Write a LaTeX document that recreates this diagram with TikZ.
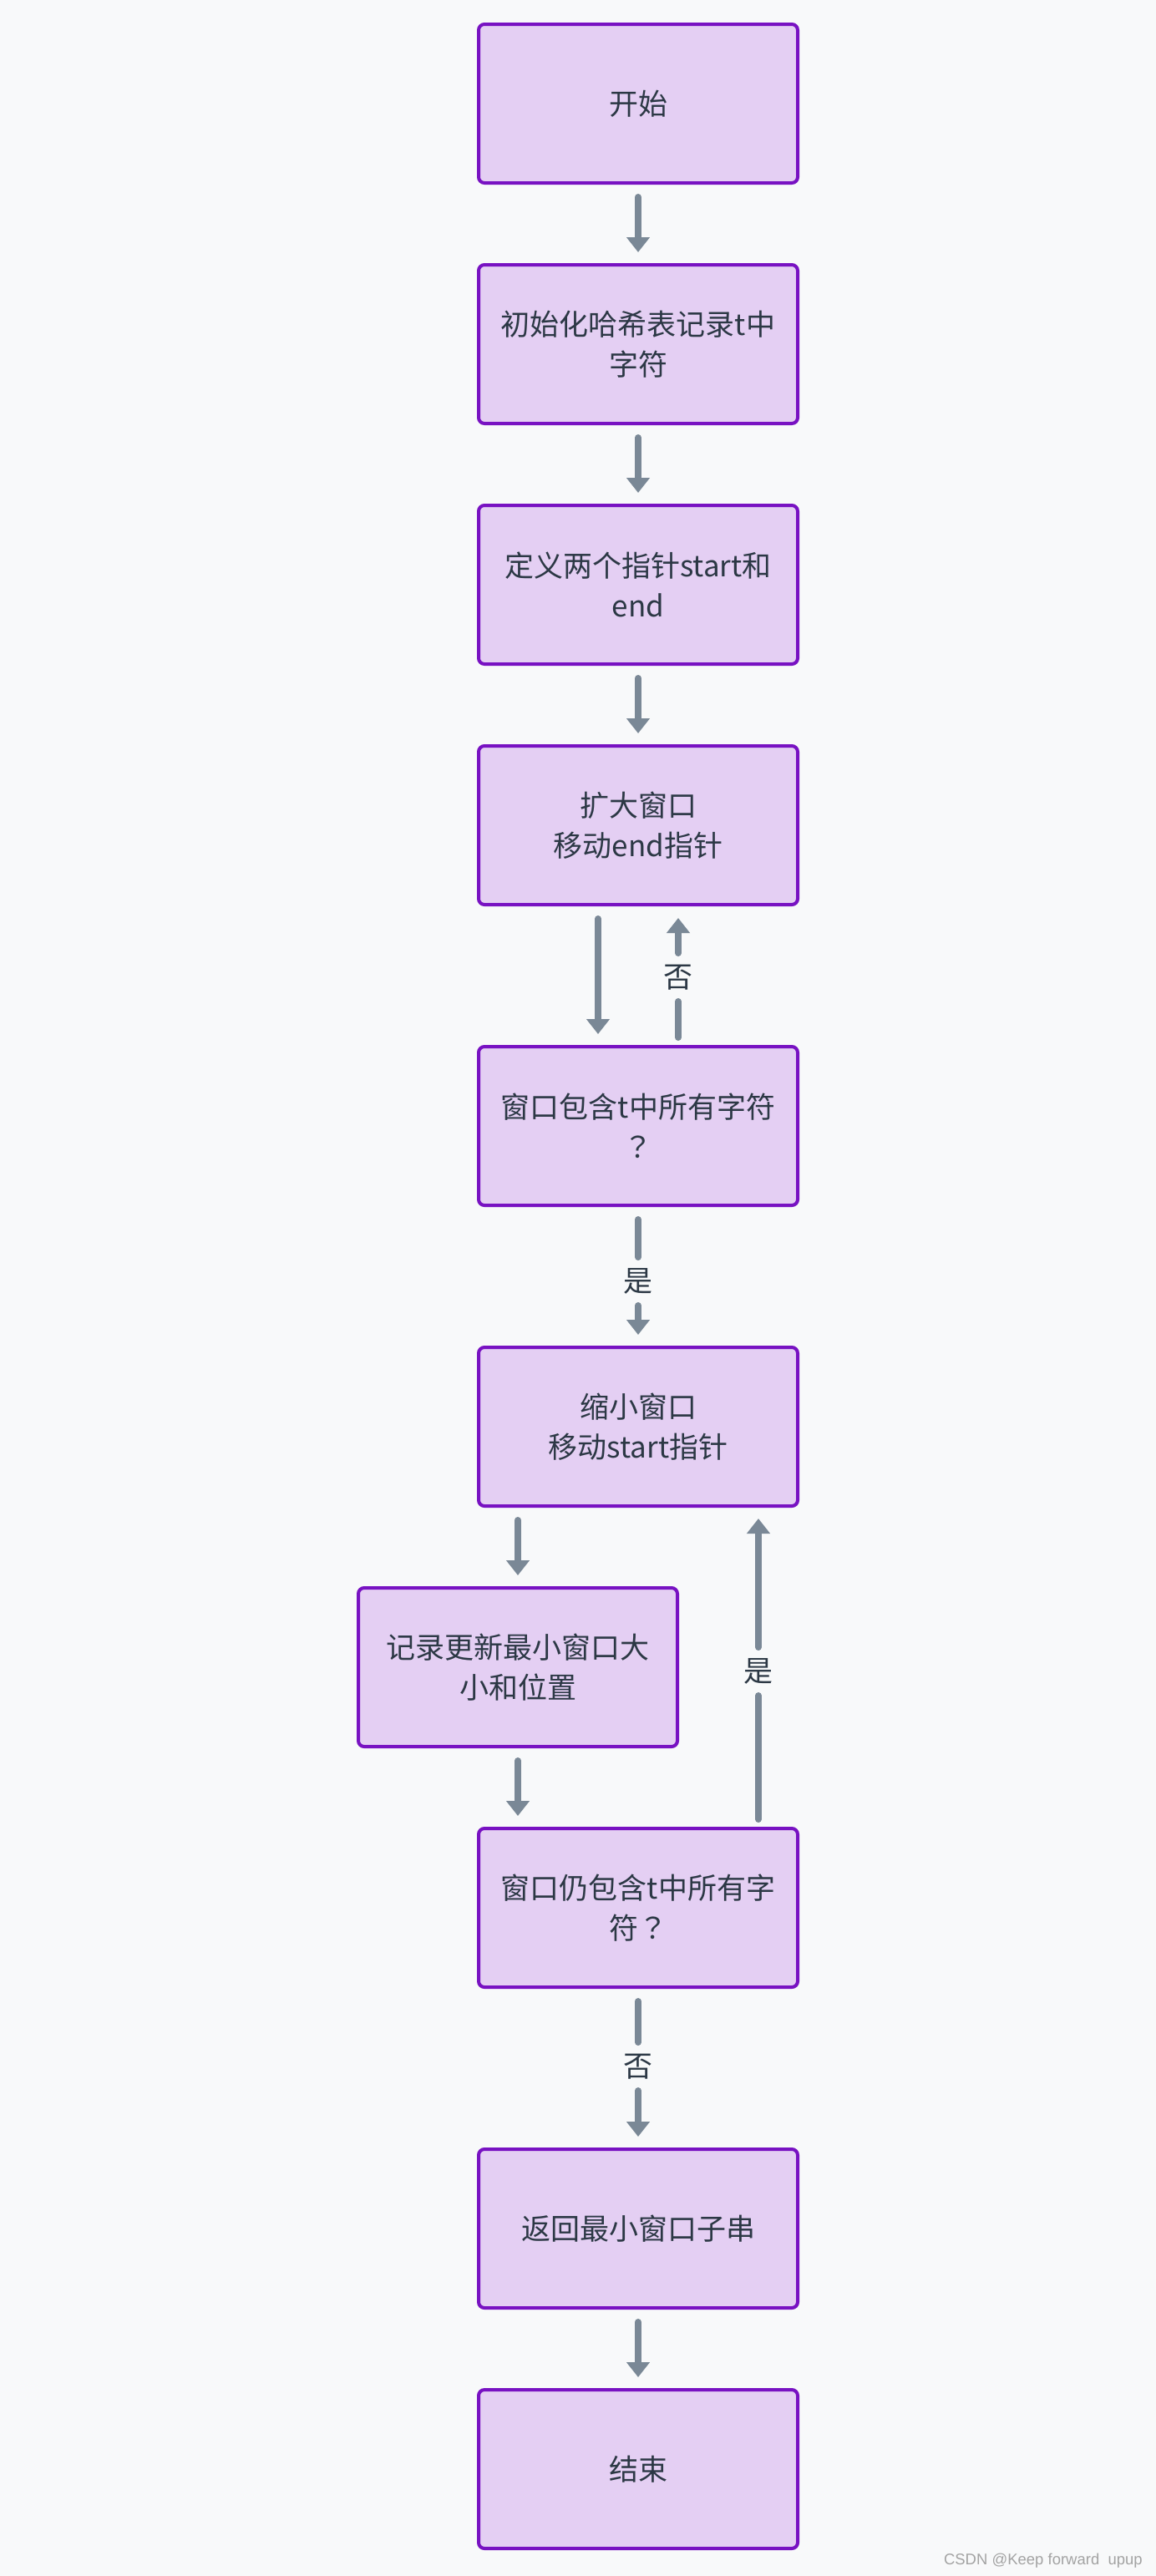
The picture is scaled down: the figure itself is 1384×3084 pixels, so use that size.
\documentclass[tikz,border=0pt]{standalone}
\usepackage{fontspec}
\newfontfamily\cjk{Noto Sans CJK SC}
\newfontfamily\cjktc{Noto Sans CJK TC}
\newfontfamily\wmfont{Liberation Sans}
\usetikzlibrary{arrows.meta}
\definecolor{bg}{HTML}{F8F9FA}
\definecolor{boxfill}{HTML}{E4CFF3}
\definecolor{boxline}{HTML}{7812C2}
\definecolor{edge}{HTML}{7A8896}
\definecolor{txt}{HTML}{2C3845}
\definecolor{wmgray}{HTML}{A3A3A3}
\newcommand{\qm}{{\cjktc ？}}
\begin{document}
\begin{tikzpicture}[x=1pt,y=-1pt,
  box/.style={draw=boxline, fill=boxfill, line width=4pt, rounded corners=7pt,
    minimum width=382pt, minimum height=190pt, outer sep=0pt, inner sep=0pt,
    text=txt, font=\cjk\fontsize{35}{48}\selectfont, align=center},
  flow/.style={draw=edge, line width=8pt, line cap=round,
    -{Triangle[width=27pt,length=18pt]}, shorten <=17pt, shorten >=15pt},
  seg/.style={draw=edge, line width=8pt, line cap=round, shorten <=17pt},
  lbl/.style={fill=bg, text=txt, font=\cjk\fontsize{35}{48}\selectfont,
    inner sep=0pt, outer sep=0pt, minimum height=58pt, minimum width=40pt}]
\fill[bg] (0,0) rectangle (1384,3084);
\useasboundingbox (0,0) rectangle (1384,3084);

\node[box] (n1) at (764,124) {开始};
\node[box] (n2) at (764,412) {初始化哈希表记录t中\\字符};
\node[box] (n3) at (764,700) {定义两个指针start和\\end};
\node[box] (n4) at (764,988) {扩大窗口\\移动end指针};
\node[box] (n5) at (764,1348) {窗口包含t中所有字符\\\qm};
\node[box] (n6) at (764,1708) {缩小窗口\\移动start指针};
\node[box] (n7) at (620,1996) {记录更新最小窗口大\\小和位置};
\node[box] (n8) at (764,2284) {窗口仍包含t中所有字\\符\qm};
\node[box] (n9) at (764,2668) {返回最小窗口子串};
\node[box] (n10) at (764,2956) {结束};

\coordinate (cd) at (716,0);
\node[lbl] (l1) at (812,1170) {否};
\node[lbl] (l2) at (764,1534) {是};
\node[lbl] (l3) at (908,2001) {是};
\node[lbl] (l4) at (764,2474) {否};

\draw[flow] (n1) -- (n2);
\draw[flow] (n2) -- (n3);
\draw[flow] (n3) -- (n4);
\draw[flow] (n4.south -| cd) -- (n5.north -| cd);
\draw[seg, shorten <=11pt] (n5.north -| l1) -- (l1);
\draw[flow, shorten <=0pt, shorten >=16pt] (l1) -- (n4.south -| l1);
\draw[seg] (n5) -- (l2);
\draw[flow, shorten <=0pt] (l2) -- (n6);
\draw[flow] (n6.south -| n7.north) -- (n7.north);
\draw[flow] (n7.south) -- (n8.north -| n7.south);
\draw[seg, shorten <=11pt] (n8.north -| l3) -- (l3);
\draw[flow, shorten <=0pt] (l3) -- (n6.south -| l3);
\draw[seg] (n8) -- (l4);
\draw[flow, shorten <=0pt] (l4) -- (n9);
\draw[flow] (n9) -- (n10);

\node[anchor=base east, text=wmgray, font=\wmfont\fontsize{18.5}{22}\selectfont, inner sep=0pt] (wm) at (1368,3070) {CSDN @Keep forward\ \ upup};
\end{tikzpicture}
\end{document}
